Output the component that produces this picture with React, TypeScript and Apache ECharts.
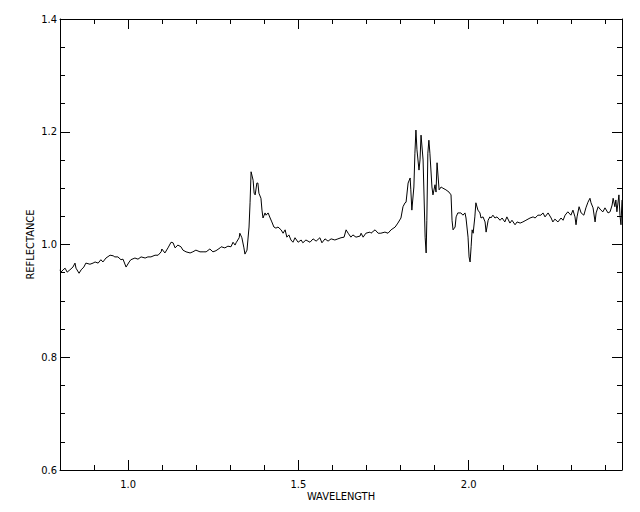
import React, { useEffect, useRef } from "react";
import * as echarts from "echarts";

const wavelength = [
  0.800, 0.803, 0.809, 0.815, 0.821, 0.829, 0.838, 0.844, 0.847, 0.856, 0.862, 0.870, 0.876, 0.888, 0.897,
  0.903, 0.912, 0.920, 0.926, 0.935, 0.947, 0.956, 0.961, 0.970, 0.979, 0.985, 0.994, 1.003, 1.008, 1.020,
  1.029, 1.038, 1.050, 1.058, 1.067, 1.079, 1.088, 1.097, 1.099, 1.108, 1.117, 1.126, 1.132, 1.138, 1.146,
  1.155, 1.161, 1.170, 1.182, 1.190, 1.199, 1.211, 1.220, 1.229, 1.240, 1.249, 1.258, 1.270,
  1.273, 1.284, 1.293, 1.302, 1.308, 1.314, 1.317, 1.326, 1.328, 1.334, 1.340, 1.343, 1.349, 1.355, 1.358,
  1.361, 1.367, 1.370, 1.373, 1.378, 1.381, 1.384, 1.390, 1.393, 1.396, 1.402, 1.405, 1.411, 1.417, 1.422,
  1.428, 1.434, 1.440, 1.449, 1.455, 1.461, 1.466, 1.472, 1.478, 1.484, 1.490, 1.499,
  1.508, 1.513, 1.522, 1.534, 1.543, 1.552, 1.563, 1.569, 1.578, 1.587, 1.596, 1.607, 1.616, 1.625, 1.634,
  1.640, 1.646, 1.654, 1.660, 1.669, 1.681, 1.684, 1.690, 1.698, 1.710, 1.713, 1.725,
  1.734, 1.742, 1.754, 1.763, 1.772, 1.784, 1.792, 1.801, 1.807, 1.813, 1.816, 1.822, 1.828, 1.830, 1.833,
  1.839, 1.842, 1.845, 1.848, 1.854, 1.857, 1.860, 1.866, 1.872, 1.875, 1.877, 1.880, 1.883, 1.886, 1.892,
  1.895, 1.901, 1.904, 1.907, 1.913, 1.919, 1.924, 1.933, 1.942, 1.948, 1.951, 1.954, 1.960, 1.963, 1.968,
  1.977, 1.983, 1.989, 1.992, 1.998, 2.001, 2.004, 2.007, 2.010, 2.013, 2.018, 2.021, 2.027, 2.033, 2.036,
  2.042, 2.048, 2.051, 2.057, 2.062, 2.065, 2.071, 2.077, 2.083, 2.092, 2.098, 2.106, 2.112, 2.121, 2.127,
  2.136, 2.142, 2.151, 2.159, 2.168, 2.180, 2.189, 2.195, 2.203,
  2.212, 2.218, 2.224, 2.233, 2.242, 2.247, 2.253, 2.262, 2.271, 2.277, 2.283, 2.291, 2.300, 2.306, 2.312,
  2.315, 2.318, 2.324, 2.330, 2.338, 2.344, 2.350, 2.356, 2.359, 2.365, 2.371, 2.374, 2.380, 2.388, 2.394,
  2.400, 2.409, 2.415, 2.421, 2.424, 2.429, 2.432, 2.435, 2.441, 2.444, 2.447, 2.450,
];

const reflectance = [
  0.955, 0.951, 0.955, 0.958, 0.951, 0.955, 0.960, 0.967, 0.958, 0.949, 0.955, 0.960, 0.967, 0.965, 0.967,
  0.969, 0.967, 0.973, 0.969, 0.976, 0.981, 0.980, 0.978, 0.978, 0.973, 0.974, 0.960, 0.969, 0.973, 0.976,
  0.974, 0.978, 0.976, 0.978, 0.978, 0.981, 0.981, 0.987, 0.992, 0.985, 0.994, 1.004, 1.003, 0.994, 0.999,
  0.996, 0.990, 0.987, 0.985, 0.987, 0.990, 0.987, 0.987, 0.987, 0.992, 0.987, 0.989, 0.994,
  0.996, 0.994, 0.997, 0.996, 1.004, 0.999, 1.003, 1.012, 1.020, 1.012, 0.994, 0.983, 0.990, 1.031, 1.074,
  1.129, 1.114, 1.091, 1.088, 1.109, 1.109, 1.091, 1.082, 1.061, 1.047, 1.056, 1.052, 1.056, 1.047, 1.040,
  1.031, 1.029, 1.031, 1.026, 1.020, 1.026, 1.013, 1.017, 1.008, 1.004, 1.012, 1.004,
  1.008, 1.003, 1.008, 1.004, 1.010, 1.006, 1.012, 1.003, 1.010, 1.006, 1.010, 1.008, 1.010, 1.012, 1.013,
  1.026, 1.020, 1.013, 1.017, 1.013, 1.015, 1.020, 1.013, 1.020, 1.022, 1.020, 1.026,
  1.020, 1.020, 1.022, 1.020, 1.026, 1.031, 1.038, 1.047, 1.067, 1.074, 1.075, 1.109, 1.118, 1.097, 1.061,
  1.102, 1.162, 1.203, 1.168, 1.132, 1.150, 1.194, 1.150, 1.013, 0.985, 1.043, 1.162, 1.185, 1.162, 1.102,
  1.088, 1.106, 1.093, 1.145, 1.097, 1.102, 1.100, 1.097, 1.093, 1.088, 1.043, 1.026, 1.031, 1.049, 1.056,
  1.056, 1.052, 1.056, 1.047, 1.013, 0.978, 0.969, 0.996, 1.026, 1.020, 1.049, 1.074, 1.061, 1.056, 1.047,
  1.049, 1.040, 1.022, 1.043, 1.049, 1.047, 1.052, 1.047, 1.049, 1.043, 1.047, 1.040, 1.049, 1.038, 1.043,
  1.035, 1.040, 1.038, 1.040, 1.043, 1.047, 1.049, 1.047, 1.052,
  1.052, 1.056, 1.049, 1.056, 1.047, 1.040, 1.045, 1.040, 1.047, 1.043, 1.052, 1.058, 1.052, 1.061, 1.049,
  1.035, 1.049, 1.067, 1.056, 1.052, 1.065, 1.075, 1.082, 1.074, 1.065, 1.040, 1.056, 1.067, 1.061, 1.058,
  1.065, 1.056, 1.058, 1.070, 1.082, 1.067, 1.079, 1.058, 1.088, 1.052, 1.035, 1.079,
];

const xMajorTicks = [1.0, 1.5, 2.0];
const xMinorTicks = [0.9, 1.1, 1.2, 1.3, 1.4, 1.6, 1.7, 1.8, 1.9, 2.1, 2.2, 2.3, 2.4];
const yMajorTicks = [0.6, 0.8, 1.0, 1.2, 1.4];
const yMinorTicks = [0.65, 0.7, 0.75, 0.85, 0.9, 0.95, 1.05, 1.1, 1.15, 1.25, 1.3, 1.35];
const xTitle = "WAVELENGTH";
const yTitle = "REFLECTANCE";

export default function App() {
  const ref = useRef<HTMLDivElement>(null);
  useEffect(() => {
    const chart = echarts.init(ref.current!, null, { renderer: "svg" });
    const font = "'Liberation Sans Narrow', 'DejaVu Sans Condensed', 'Liberation Sans', sans-serif";
    const black = "#000";
    const mkX = (position: string, ticks: number[], len: number, main: boolean, labels: boolean) => ({
      type: "value",
      position,
      min: 0.8,
      max: 2.45,
      gridIndex: 0,
      name: labels ? xTitle : "",
      nameLocation: "middle",
      nameGap: 21,
      nameMoveOverlap: false,
      nameTextStyle: { color: black, fontFamily: font, fontSize: 11 },
      axisLine: { show: main, onZero: false, lineStyle: { color: black, width: 1 } },
      axisTick: { show: true, inside: true, length: len, customValues: ticks, lineStyle: { color: black, width: 1 } },
      axisLabel: {
        show: labels,
        customValues: ticks,
        color: black,
        fontFamily: font,
        fontSize: 11,
        margin: 9,
        formatter: (v: number) => v.toFixed(1),
      },
      splitLine: { show: false },
    });
    const mkY = (position: string, ticks: number[], len: number, main: boolean, labels: boolean) => ({
      type: "value",
      position,
      min: 0.6,
      max: 1.4,
      gridIndex: 0,
      name: labels ? yTitle : "",
      nameLocation: "middle",
      nameGap: 24,
      nameMoveOverlap: false,
      nameRotate: 90,
      nameTextStyle: { color: black, fontFamily: font, fontSize: 11 },
      axisLine: { show: main, onZero: false, lineStyle: { color: black, width: 1 } },
      axisTick: { show: true, inside: true, length: len, customValues: ticks, lineStyle: { color: black, width: 1 } },
      axisLabel: {
        show: labels,
        customValues: ticks,
        color: black,
        fontFamily: font,
        fontSize: 11,
        margin: 3,
        formatter: (v: number) => v.toFixed(1),
      },
      splitLine: { show: false },
    });
    chart.setOption({
      animation: false,
      backgroundColor: "#fff",
      grid: { left: 60, right: 18, top: 19, bottom: 42, containLabel: false },
      xAxis: [
        mkX("bottom", xMajorTicks, 10, true, true),
        mkX("bottom", xMinorTicks, 5, false, false),
        mkX("top", xMajorTicks, 10, true, false),
        mkX("top", xMinorTicks, 5, false, false),
      ],
      yAxis: [
        mkY("left", yMajorTicks, 10, true, true),
        mkY("left", yMinorTicks, 5, false, false),
        mkY("right", yMajorTicks, 10, true, false),
        mkY("right", yMinorTicks, 5, false, false),
      ],
      series: [
        {
          type: "line",
          xAxisIndex: 0,
          yAxisIndex: 0,
          data: wavelength.map((w, i) => [w, reflectance[i]]),
          showSymbol: false,
          symbol: "none",
          lineStyle: { color: black, width: 1 },
          silent: true,
        },
      ],
    });
    return () => chart.dispose();
  }, []);
  return (
    <div
      ref={ref}
      style={{ position: "fixed", left: 0, top: 0, width: 640, height: 512, background: "#fff" }}
    />
  );
}
